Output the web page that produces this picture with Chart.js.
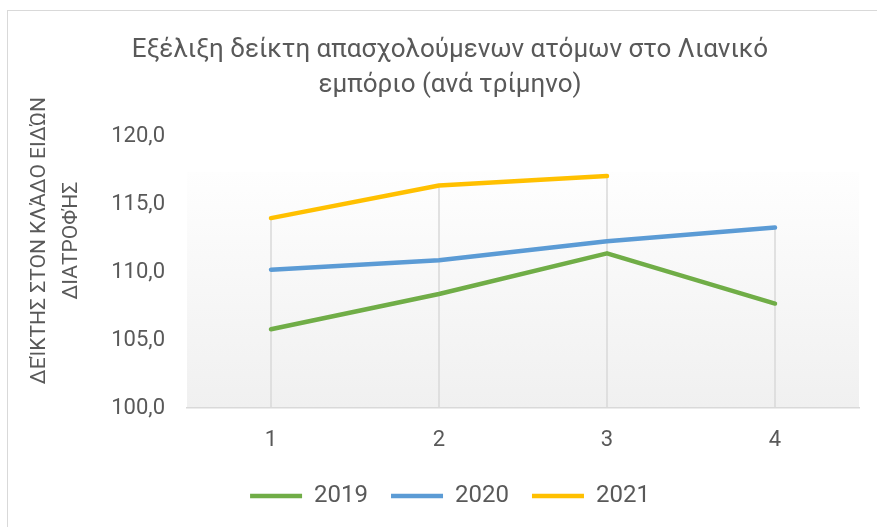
<!DOCTYPE html>
<html>
<head>
<meta charset="utf-8">
<script src="https://cdn.jsdelivr.net/npm/chart.js@4/dist/chart.umd.min.js"></script>
<style>
  html, body { margin: 0; padding: 0; background: #ffffff; }
  #wrap { position: relative; width: 877px; height: 527px; overflow: hidden; }
  #frame { position: absolute; left: 7px; top: 10px; width: 880px; height: 540px; border: 1.5px solid #d9d9d9; box-sizing: border-box; }
  canvas { position: absolute; left: 0; top: 0; }
</style>
</head>
<body>
<div id="wrap">
  <div id="frame"></div>
  <canvas id="c" width="877" height="527"></canvas>
</div>
<script>
const categories = ['1', '2', '3', '4'];
const series2019 = [105.8, 108.4, 111.4, 107.7];
const series2020 = [110.2, 110.9, 112.3, 113.3];
const series2021 = [114.0, 116.4, 117.1, null];
const seriesNames = ['2019', '2020', '2021'];
const titleLines = ['Εξέλιξη δείκτη απασχολούμενων ατόμων στο Λιανικό', 'εμπόριο (ανά τρίμηνο)'];
const yTitleLines = ['ΔΕΊΚΤΗΣ ΣΤΟΝ ΚΛΆΔΟ ΕΙΔΏΝ', 'ΔΙΑΤΡΟΦΉΣ'];
const yMin = 100, yMax = 120, yStep = 5;

const GREY = '#595959';
const FONT = "Roboto, 'Open Sans', 'Noto Sans', sans-serif";

const bgPlugin = {
  id: 'plotBg',
  beforeDraw(chart) {
    const {ctx, chartArea: a} = chart;
    const top = a.top + (a.bottom - a.top) * 0.13;
    const g = ctx.createLinearGradient(0, top, 0, a.bottom);
    g.addColorStop(0, '#fefefe');
    g.addColorStop(1, '#f0f0f0');
    ctx.save();
    ctx.fillStyle = g;
    ctx.fillRect(a.left, top, a.right - a.left, a.bottom - top);
    ctx.restore();
  }
};

const dropLines = {
  id: 'dropLines',
  beforeDatasetsDraw(chart) {
    const {ctx, scales: {x, y}} = chart;
    ctx.save();
    ctx.strokeStyle = '#d9d9d9';
    ctx.lineWidth = 1.5;
    categories.forEach((c, i) => {
      const vals = chart.data.datasets.map(d => d.data[i]).filter(v => v !== null && v !== undefined);
      if (!vals.length) return;
      const mx = Math.max(...vals);
      const px = x.getPixelForValue(i);
      ctx.beginPath();
      ctx.moveTo(px, y.getPixelForValue(mx));
      ctx.lineTo(px, y.getPixelForValue(yMin));
      ctx.stroke();
    });
    ctx.restore();
  }
};

// Y-axis title, drawn as rotated text to the left of the tick labels
const yTitlePlugin = {
  id: 'yTitle',
  afterDraw(chart) {
    const {ctx, chartArea: a} = chart;
    const cy = a.top + (a.bottom - a.top) * 0.383;
    const xs = [40, 72];
    ctx.save();
    ctx.fillStyle = GREY;
    ctx.font = "21px " + FONT;
    ctx.textAlign = 'center';
    ctx.textBaseline = 'middle';
    yTitleLines.forEach((t, i) => {
      ctx.save();
      ctx.translate(xs[i], cy);
      ctx.rotate(-Math.PI / 2);
      ctx.fillText(t, 0, 0);
      ctx.restore();
    });
    ctx.restore();
  }
};

const mk = (label, data, color) => ({
  label, data,
  borderColor: color, backgroundColor: color,
  borderWidth: 4.5, borderCapStyle: 'round', borderJoinStyle: 'round',
  pointRadius: 0, pointHoverRadius: 0, pointStyle: 'line',
  tension: 0, spanGaps: false, fill: false
});

new Chart(document.getElementById('c'), {
  type: 'line',
  data: {
    labels: categories,
    datasets: [
      mk(seriesNames[0], series2019, '#70ad47'),
      mk(seriesNames[1], series2020, '#5b9bd5'),
      mk(seriesNames[2], series2021, '#ffc000')
    ]
  },
  options: {
    responsive: false,
    animation: false,
    devicePixelRatio: 1,
    layout: { padding: { left: 41, right: 18, top: 0, bottom: 9 } },
    plugins: {
      title: {
        display: true,
        text: titleLines,
        color: GREY,
        font: { family: FONT, size: 26, weight: 'normal', lineHeight: 1.35 },
        padding: { top: 32.5, bottom: 34 }
      },
      legend: {
        position: 'bottom',
        labels: {
          usePointStyle: true,
          pointStyleWidth: 52,
          boxHeight: 24,
          padding: 23,
          color: GREY,
          font: { family: FONT, size: 24 }
        }
      },
      tooltip: { enabled: false }
    },
    scales: {
      x: {
        offset: true,
        grid: { display: false, drawTicks: false },
        border: { display: true, color: '#d9d9d9', width: 1.5 },
        ticks: { color: GREY, padding: 19, font: { family: FONT, size: 22 } },
        afterFit(s) { s.height = 53; }
      },
      y: {
        min: yMin, max: yMax,
        grid: { display: false, drawTicks: false },
        border: { display: false },
        ticks: {
          stepSize: yStep, color: GREY, padding: 22,
          font: { family: FONT, size: 22 },
          callback: v => v.toFixed(1).replace('.', ',')
        },
        title: { display: false },
        afterFit(s) { s.width = 146; }
      }
    }
  },
  plugins: [bgPlugin, dropLines, yTitlePlugin]
});
</script>
</body>
</html>
